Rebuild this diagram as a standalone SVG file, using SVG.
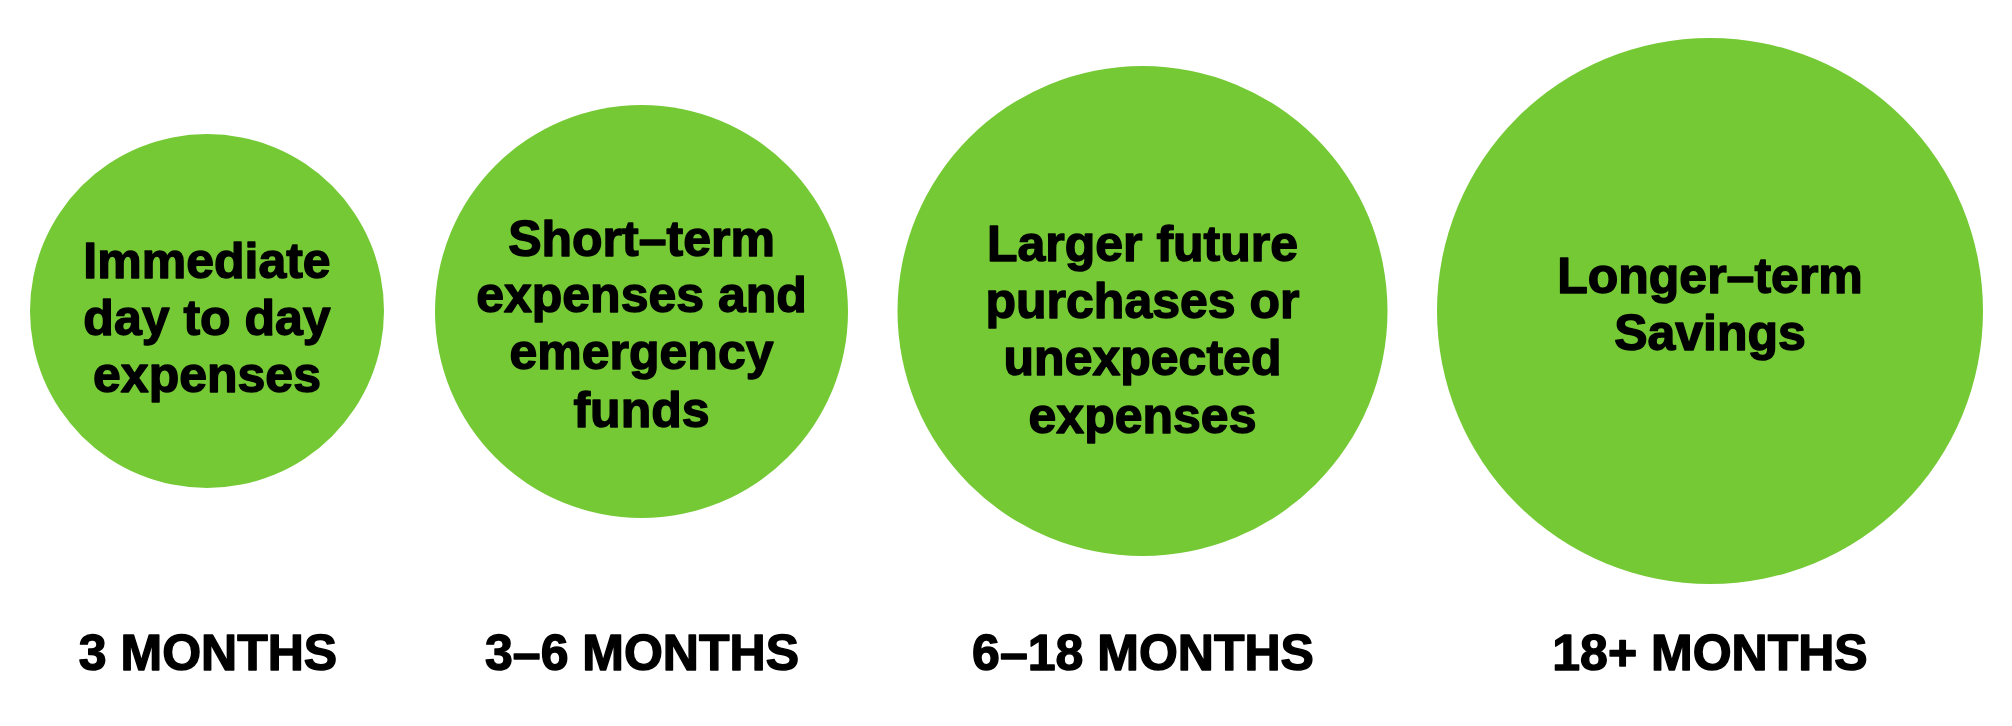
<svg xmlns="http://www.w3.org/2000/svg" width="2012" height="726" viewBox="0 0 2012 726">
  <style>
    .bubble { fill: #74C935; }
    .t { font-family: "Liberation Sans", Arial, sans-serif; font-weight: bold; font-size: 50px; fill: #000000; stroke: #000000; stroke-width: 1.4px; stroke-linejoin: round; text-anchor: middle; }
  </style>
  <rect x="0" y="0" width="2012" height="726" fill="#FFFFFF"/>
  <g id="node-3-months">
    <circle class="bubble" cx="207" cy="311" r="177"/>
    <text class="t" x="207" y="278">Immediate</text>
    <text class="t" x="207" y="335">day to day</text>
    <text class="t" x="207" y="392">expenses</text>
    <text class="t" x="208" y="670">3 MONTHS</text>
  </g>
  <g id="node-3-6-months">
    <circle class="bubble" cx="641.5" cy="311.5" r="206.5"/>
    <text class="t" x="641.5" y="256">Short–term</text>
    <text class="t" x="641.5" y="312">expenses and</text>
    <text class="t" x="641.5" y="369">emergency</text>
    <text class="t" x="641.5" y="427">funds</text>
    <text class="t" x="642" y="670">3–6 MONTHS</text>
  </g>
  <g id="node-6-18-months">
    <circle class="bubble" cx="1142.5" cy="311" r="245"/>
    <text class="t" x="1142.5" y="261">Larger future</text>
    <text class="t" x="1142.5" y="318">purchases or</text>
    <text class="t" x="1142.5" y="375">unexpected</text>
    <text class="t" x="1142.5" y="433">expenses</text>
    <text class="t" x="1143" y="670">6–18 MONTHS</text>
  </g>
  <g id="node-18-plus-months">
    <circle class="bubble" cx="1710" cy="311" r="273"/>
    <text class="t" x="1710" y="293">Longer–term</text>
    <text class="t" x="1710" y="350">Savings</text>
    <text class="t" x="1710" y="670">18+ MONTHS</text>
  </g>
  <g id="connectors"/>
</svg>
